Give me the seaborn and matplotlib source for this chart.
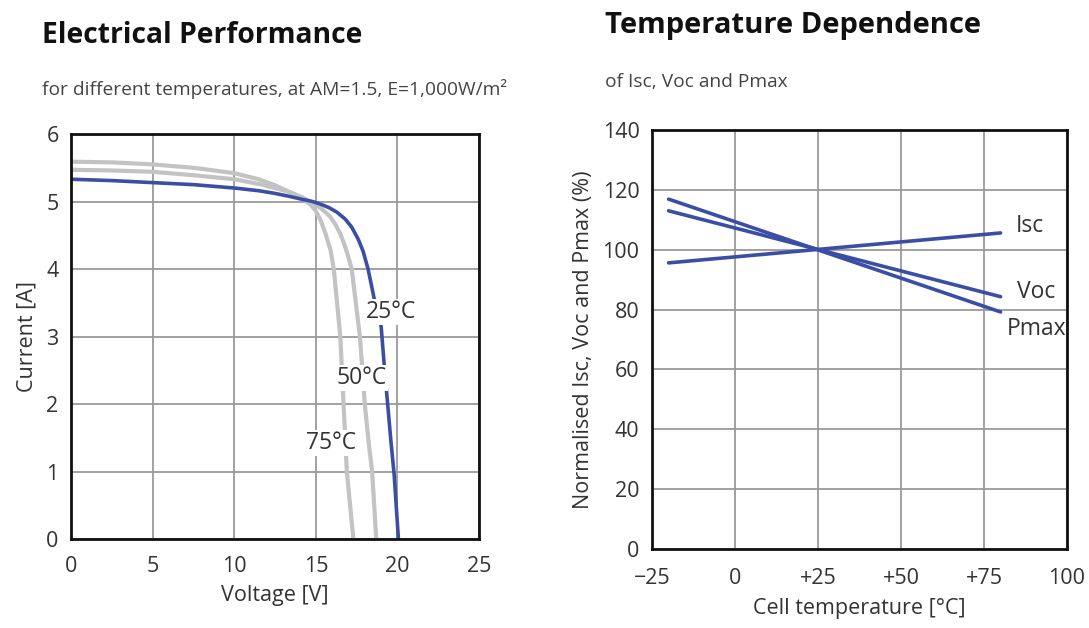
import matplotlib
matplotlib.use("Agg")
import matplotlib.pyplot as plt
import seaborn as sns
import pandas as pd

# I-V curves at three cell temperatures
v_25 = [0, 2.5, 5, 7.5, 10, 11.5, 12.5, 13.5, 14.2, 14.8, 15.3, 15.8, 16.3, 16.8,
        17.2, 17.6, 17.9, 18.2, 18.5, 18.75, 19.0, 19.2, 19.4, 19.6, 19.8, 20.06]
i_25 = [5.33, 5.31, 5.28, 5.25, 5.20, 5.16, 5.12, 5.07, 5.03, 5.0, 4.96, 4.91, 4.84, 4.74,
        4.62, 4.44, 4.26, 4.0, 3.65, 3.35, 3.15, 2.55, 2.0, 1.45, 0.95, 0.0]
v_50 = [0, 2.5, 5, 7.5, 10, 11.5, 12.5, 13.5, 14.2, 14.8, 15.2, 15.6, 15.9, 16.2,
        16.5, 16.8, 17.0, 17.2, 17.45, 17.7, 18.0, 18.25, 18.45, 18.7]
i_50 = [5.47, 5.46, 5.44, 5.39, 5.33, 5.26, 5.20, 5.13, 5.06, 4.98, 4.92, 4.84, 4.77, 4.66,
        4.52, 4.33, 4.17, 4.0, 3.5, 3.0, 2.0, 1.4, 1.0, 0.0]
v_75 = [0, 2.5, 5, 7.5, 10, 11.5, 12.5, 13.5, 14.2, 14.7, 15.0, 15.3, 15.6, 15.9,
        16.1, 16.3, 16.5, 16.7, 16.9, 17.1, 17.3]
i_75 = [5.59, 5.58, 5.55, 5.50, 5.42, 5.33, 5.24, 5.13, 5.04, 4.95, 4.86, 4.72, 4.52, 4.28,
        4.0, 3.5, 3.0, 2.0, 1.0, 0.5, 0.0]

# Normalised temperature coefficients
cell_temp = [-20, 80]
isc_pct = [95.6, 105.6]
voc_pct = [113.0, 84.3]
pmax_pct = [116.9, 79.2]

volt_ticks = [0, 5, 10, 15, 20, 25]
curr_ticks = [0, 1, 2, 3, 4, 5, 6]
temp_ticks = [-25, 0, 25, 50, 75, 100]
temp_labels = ["\u221225", "0", "+25", "+50", "+75", "100"]
pct_ticks = [0, 20, 40, 60, 80, 100, 120, 140]

sns.set_style("white")
plt.rcParams["font.family"] = ["Open Sans", "DejaVu Sans"]

BLUE = "#3a4ea6"
GREY = "#c3c3c3"
GRID = "#9a9a9a"
TXT = "#333333"
FS = 15.5

fig = plt.figure(figsize=(10.89, 6.28), dpi=100)
ax1 = fig.add_axes([0.0652, 0.1417, 0.3747, 0.6449])
ax2 = fig.add_axes([0.5987, 0.1258, 0.3811, 0.6672])

def style_axes(ax):
    ax.grid(True, color=GRID, linewidth=1.3)
    ax.set_axisbelow(True)
    for s in ax.spines.values():
        s.set_color("#111111")
        s.set_linewidth(2.0)
    ax.tick_params(axis="both", length=0, labelsize=FS, colors=TXT)
    ax.tick_params(axis="x", pad=12)
    ax.tick_params(axis="y", pad=9)

# left panel
iv = pd.concat([
    pd.DataFrame({"V": v_75, "I": i_75, "T": "75"}),
    pd.DataFrame({"V": v_50, "I": i_50, "T": "50"}),
])
for t in ["75", "50"]:
    sns.lineplot(data=iv[iv["T"] == t], x="V", y="I", sort=False, ax=ax1,
                 color=GREY, linewidth=3, estimator=None)
sns.lineplot(x=v_25, y=i_25, sort=False, ax=ax1, color=BLUE, linewidth=2.6,
             estimator=None)
ax1.set_xlim(0, 25)
ax1.set_ylim(0, 6)
ax1.set_xticks(volt_ticks)
ax1.set_yticks(curr_ticks)
style_axes(ax1)
ax1.set_xlabel("Voltage [V]", fontsize=FS, color=TXT, labelpad=6)
ax1.set_ylabel("Current [A]", fontsize=FS, color=TXT, labelpad=6)
lbl = dict(fontsize=16.5, color=TXT, ha="center", va="center",
           bbox=dict(boxstyle="square,pad=0.05", fc="white", ec="none"))
ax1.text(19.6, 3.36, "25\u00b0C", **lbl)
ax1.text(17.8, 2.39, "50\u00b0C", **lbl)
ax1.text(15.95, 1.42, "75\u00b0C", **lbl)

# right panel
for y in (isc_pct, voc_pct, pmax_pct):
    sns.lineplot(x=cell_temp, y=y, ax=ax2, color=BLUE, linewidth=2.6)
ax2.set_xlim(-25, 100)
ax2.set_ylim(0, 140)
ax2.set_xticks(temp_ticks)
ax2.set_xticklabels(temp_labels)
ax2.set_yticks(pct_ticks)
style_axes(ax2)
ax2.tick_params(axis="x", pad=14)
ax2.set_xlabel("Cell temperature [\u00b0C]", fontsize=FS, color=TXT, labelpad=6)
ax2.set_ylabel("Normalised Isc, Voc and Pmax (%)", fontsize=FS, color=TXT, labelpad=6)
ax2.text(84.5, 108, "Isc", fontsize=16.5, color=TXT, va="center")
ax2.text(85.0, 86, "Voc", fontsize=16.5, color=TXT, va="center")
ax2.text(81.9, 73.5, "Pmax", fontsize=16.5, color=TXT, va="center")

# headings
fig.text(0.0386, 0.944, "Electrical Performance", fontsize=20.3, fontweight="bold",
         color="#111111", va="center")
fig.text(0.0386, 0.859, "for different temperatures, at AM=1.5, E=1,000W/m\u00b2",
         fontsize=13.8, color="#444444", va="center")
fig.text(0.5556, 0.96, "Temperature Dependence", fontsize=21, fontweight="bold",
         color="#111111", va="center")
fig.text(0.5556, 0.869, "of Isc, Voc and Pmax", fontsize=13.8, color="#444444",
         va="center")

fig.savefig("out.png", dpi=100)
